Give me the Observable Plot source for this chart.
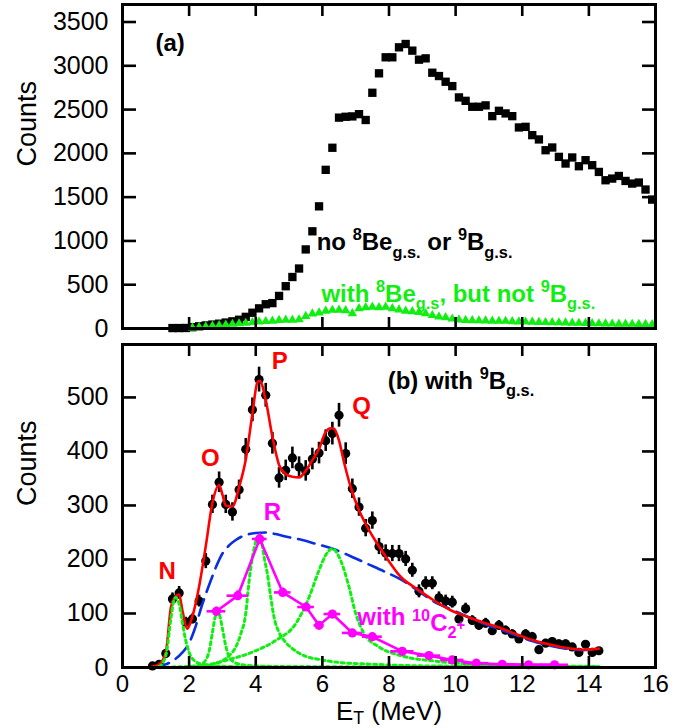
<!DOCTYPE html>
<html><head><meta charset="utf-8">
<script src="https://cdn.jsdelivr.net/npm/d3@7"></script>
<script src="https://cdn.jsdelivr.net/npm/@observablehq/plot@0.6"></script>
<style>
body{margin:0;background:#fff;}
#chart{width:683px;height:728px;overflow:hidden;}
svg{display:block;}
</style></head><body><div id="chart"></div>
<script>
// ---------- tick values ----------
const xTicks = [0, 2, 4, 6, 8, 10, 12, 14, 16];
const aYTicks = [0, 500, 1000, 1500, 2000, 2500, 3000, 3500];
const bYTicks = [0, 100, 200, 300, 400, 500];

// ---------- panel (a): no 8Be g.s. or 9B g.s. (black squares) ----------
const aBlackX = [1.5,1.7,1.9,2.1,2.3,2.5,2.7,2.9,3.1,3.3,3.5,3.7,3.9,4.1,4.3,4.5,4.7,4.9,5.1,5.3,5.5,5.7,5.9,6.1,6.3,6.5,6.7,6.9,7.1,7.3,7.5,7.7,7.9,8.1,8.3,8.5,8.7,8.9,9.1,9.3,9.5,9.7,9.9,10.1,10.3,10.5,10.7,10.9,11.1,11.3,11.5,11.7,11.9,12.1,12.3,12.5,12.7,12.9,13.1,13.3,13.5,13.7,13.9,14.1,14.3,14.5,14.7,14.9,15.1,15.3,15.5,15.7,15.9];
const aBlackY = [5,5,6,15,25,35,45,55,68,82,100,133,180,230,277,290,372,483,588,685,903,1110,1395,1812,2064,2408,2418,2422,2448,2381,2692,2914,3097,3097,3211,3249,3173,3070,3085,2921,2883,2818,2768,2639,2600,2532,2532,2548,2425,2486,2456,2425,2296,2303,2208,2159,2036,2067,1960,1884,1953,1853,1922,1865,1788,1693,1712,1742,1685,1655,1667,1587,1472];

// ---------- panel (a): with 8Be g.s., but not 9B g.s. (green triangles) ----------
const aGreenX = [2.1,2.3,2.5,2.7,2.9,3.1,3.3,3.5,3.7,3.9,4.1,4.3,4.5,4.7,4.9,5.1,5.3,5.5,5.7,5.9,6.1,6.3,6.5,6.7,6.9,7.1,7.3,7.5,7.7,7.9,8.1,8.3,8.5,8.7,8.9,9.1,9.3,9.5,9.7,9.9,10.1,10.3,10.5,10.7,10.9,11.1,11.3,11.5,11.7,11.9,12.1,12.3,12.5,12.7,12.9,13.1,13.3,13.5,13.7,13.9,14.1,14.3,14.5,14.7,14.9,15.1,15.3,15.5,15.7,15.9];
const aGreenY = [8,15,22,30,36,42,50,56,62,70,78,82,85,95,98,98,102,140,168,180,200,210,212,205,172,228,240,245,240,245,228,215,200,195,185,172,150,135,125,110,100,95,92,90,88,86,84,84,80,78,76,74,72,70,69,67,65,63,62,60,58,56,54,53,52,51,50,49,48,47];

// ---------- panel (b): with 9B g.s. (data with errors) ----------
const bX = [0.9,1.1,1.3,1.5,1.7,1.9,2.1,2.3,2.5,2.7,2.9,3.1,3.3,3.5,3.7,3.9,4.1,4.3,4.5,4.7,4.9,5.1,5.3,5.5,5.7,5.9,6.1,6.3,6.5,6.7,6.9,7.1,7.3,7.5,7.7,7.9,8.1,8.3,8.5,8.7,8.9,9.1,9.3,9.5,9.7,9.9,10.1,10.3,10.5,10.7,10.9,11.1,11.3,11.5,11.7,11.9,12.1,12.3,12.5,12.7,12.9,13.1,13.3,13.5,13.7,13.9,14.1,14.3];
const bY = [3,6,26,127,138,84,90,123,197,302,343,302,288,329,404,477,533,504,415,351,365,388,371,364,386,397,420,433,467,396,331,297,258,272,224,212,211,211,201,180,141,156,156,129,123,121,90,109,87,78,82,68,78,69,62,53,62,57,33,45,48,44,44,38,28,43,28,31];
const bErr = [2,2,5,11,12,9,9,11,14,17,19,17,17,18,20,22,23,22,20,19,19,20,19,19,20,20,20,21,22,20,18,17,16,16,15,15,15,15,14,13,12,12,12,11,11,11,9,10,9,9,9,8,9,8,8,7,8,8,6,7,7,7,7,6,5,7,5,6];

// total fit (red)
const fitX = [0.9,1.1,1.3,1.45,1.55,1.7,1.8,1.95,2.1,2.3,2.5,2.7,2.9,3.0,3.1,3.3,3.5,3.7,3.9,4.05,4.12,4.3,4.5,4.7,4.9,5.1,5.3,5.5,5.7,5.9,6.1,6.25,6.35,6.5,6.65,6.85,7.1,7.35,7.65,7.95,8.35,8.85,9.35,9.85,10.35,10.85,11.35,11.85,12.35,12.85,13.35,13.85,14.3];
const fitY = [2,6,28,110,128,135,105,72,95,150,225,305,338,320,300,298,334,385,470,528,531,495,427,375,358,353,352,364,384,405,436,443,442,420,380,334,291,260,229,201,168,145,124,106,94,83,73,61,50,42,36,33,35];

// background (blue dashed)
const bgX = [0.9,1.2,1.5,1.8,2.0,2.15,2.4,2.65,2.8,3.0,3.2,3.4,3.6,3.8,4.0,4.3,4.6,5.0,5.4,5.8,6.35,6.85,7.35,7.85,8.35,8.85,9.35,9.85,10.35,10.85,11.35,11.8,12.3,12.8,13.3,13.8,14.3];
const bgY = [1,4,12,28,45,68,118,161,185,211,226,236,243,247,249,250,247,241,236,229,219,206,192,178,163,143,122,108,94,81,70,60,49,41,35,32,34];

// individual resonances (green dotted)
const pkNX = [0.9,1.1,1.2,1.33,1.45,1.55,1.6,1.65,1.72,1.8,1.9,2.0,2.15,2.4,2.8,3.5,5,8,11,14.3];
const pkNY = [0,2,8,31,90,125,130,126,112,82,50,28,13,6,3,1.5,1,0.5,0.3,0.2];
const pkOX = [0.9,2.0,2.3,2.5,2.6,2.7,2.8,2.85,2.9,3.0,3.1,3.2,3.35,3.6,4.0,5,7,10,14.3];
const pkOY = [0,1,4,14,30,65,98,104,100,72,40,20,10,5,3,1.5,0.8,0.4,0.2];
const pkPX = [0.9,2.0,2.8,3.2,3.4,3.55,3.7,3.8,3.95,4.05,4.1,4.15,4.25,4.35,4.45,4.55,4.7,4.85,5.1,5.45,6.0,6.4,7.5,9,11,14.3];
const pkPY = [0,2,8,22,38,62,100,160,220,242,244,240,205,173,130,93,65,50,35,22,14,10,6,3,2,1];
const pkQX = [2.3,3.1,4.0,4.6,5.2,5.6,5.9,6.1,6.3,6.55,6.8,7.0,7.25,7.7,8.35,9.35,9.85,11,12.5,14.3];
const pkQY = [0,13,31,50,81,130,180,208,220,198,149,100,63,38,22,12,9,5,3,2];

// with 10C 2+ (magenta)
const mX = [2.82,3.46,4.12,4.81,5.51,5.9,6.3,6.9,7.5,8.4,9.2,9.9,10.62,11.4,12.19,12.97];
const mY = [104,133,238,139,112,78,99,64,57,30,22,14,8,6,5,5];
const mXerr = [0.28,0.32,0.22,0.25,0.25,0.15,0.25,0.3,0.3,0.35,0.35,0.35,0.38,0.4,0.4,0.42];
const mYerr = [8,9,10,8,7,6,6,5,5,3,3,2,2,2,2,2];

// ---------- build ----------
const FONT = "'Liberation Sans', Arial, Helvetica, sans-serif";
const GREEN = "#11ee11", RED = "#ff0000", BLUE = "#0a2fe0", MAG = "#ff00ff";
const zip = (xs, ys) => xs.map((x, i) => ({x, y: ys[i]}));
const plain = d3.format("d");

function frameMarks(yTicks, xLabels) {
  const m = [
    Plot.frame({stroke: "black", strokeWidth: 3}),
    Plot.axisY({ticks: yTicks, anchor: "left", tickSize: 0, tickPadding: 14, tickFormat: plain, label: null, fontSize: 25}),
    Plot.axisY({ticks: yTicks, anchor: "left", tickSize: -14, tickFormat: () => "", label: null, strokeWidth: 2.6}),
    Plot.axisY({ticks: yTicks, anchor: "right", tickSize: -14, tickFormat: () => "", label: null, strokeWidth: 2.6}),
    Plot.axisX({ticks: xTicks, anchor: "top", tickSize: -11, tickFormat: () => "", label: null, strokeWidth: 2.6}),
    Plot.axisX({ticks: xTicks, anchor: "bottom", tickSize: -11, tickFormat: () => "", label: null, strokeWidth: 2.6}),
    Plot.text(["Counts"], {frameAnchor: "left", rotate: -90, dx: -95, fontSize: 27, fill: "black"})
  ];
  if (xLabels) m.push(Plot.axisX({ticks: xTicks, anchor: "bottom", tickSize: 0, tickPadding: 7, tickFormat: plain, label: null, fontSize: 24}));
  return m;
}

const plotA = Plot.plot({
  width: 683, height: 336,
  marginLeft: 122, marginRight: 28, marginTop: 4, marginBottom: 8,
  style: {fontFamily: FONT, background: "white", overflow: "visible"},
  x: {domain: [0, 16]},
  y: {domain: [0, 3700]},
  marks: [
    Plot.dot(zip(aBlackX, aBlackY), {x: "x", y: "y", symbol: "square", r: 4.7, fill: "black", stroke: "none"}),
    Plot.dot(zip(aGreenX, aGreenY), {x: "x", y: "y", symbol: "triangle", r: 3.5, fill: GREEN, stroke: "none"}),
    Plot.text(["(a)"], {x: 0.99, y: 3260, textAnchor: "start", fontWeight: "bold", fontSize: 24}),
    Plot.text(["no ^{8}Be_{g.s.} or ^{9}B_{g.s.}"], {x: 5.83, y: 980, textAnchor: "start", fontWeight: "bold", fontSize: 24, fill: "black"}),
    Plot.text(["with ^{8}Be_{g.s}, but not ^{9}B_{g.s.}"], {x: 5.97, y: 390, textAnchor: "start", fontWeight: "bold", fontSize: 24, fill: GREEN}),
    ...frameMarks(aYTicks, false)
  ]
});

const bData = bX.map((x, i) => ({x, y: bY[i], lo: bY[i] - bErr[i], hi: bY[i] + bErr[i]}));
const mData = mX.map((x, i) => ({x, y: mY[i], x1: x - mXerr[i], x2: x + mXerr[i], lo: mY[i] - mYerr[i], hi: mY[i] + mYerr[i]}));
const dotted = {x: "x", y: "y", stroke: GREEN, strokeWidth: 3, strokeDasharray: "3,3.5", curve: "monotone-x"};

const plotB = Plot.plot({
  width: 683, height: 392,
  marginLeft: 122, marginRight: 28, marginTop: 8, marginBottom: 61,
  style: {fontFamily: FONT, background: "white", overflow: "visible"},
  x: {domain: [0, 16]},
  y: {domain: [0, 598]},
  marks: [
    Plot.ruleX(bData, {x: "x", y1: "lo", y2: "hi", stroke: "black", strokeWidth: 2.6}),
    Plot.dot(bData, {x: "x", y: "y", r: 4.6, fill: "black", stroke: "none"}),
    Plot.line(zip(bgX, bgY), {x: "x", y: "y", stroke: BLUE, strokeWidth: 2.6, strokeDasharray: "17,8", curve: "monotone-x"}),
    Plot.line(zip(fitX, fitY), {x: "x", y: "y", stroke: RED, strokeWidth: 2.6, curve: "monotone-x"}),
    Plot.line(zip(pkNX, pkNY), dotted),
    Plot.line(zip(pkOX, pkOY), dotted),
    Plot.line(zip(pkPX, pkPY), dotted),
    Plot.line(zip(pkQX, pkQY), dotted),
    Plot.line(mData, {x: "x", y: "y", stroke: MAG, strokeWidth: 2.6}),
    Plot.ruleY(mData, {y: "y", x1: "x1", x2: "x2", stroke: MAG, strokeWidth: 2.6}),
    Plot.ruleX(mData, {x: "x", y1: "lo", y2: "hi", stroke: MAG, strokeWidth: 2.6}),
    Plot.dot(mData, {x: "x", y: "y", r: 4.6, fill: MAG, stroke: "none"}),
    Plot.text(["N"], {x: 1.34, y: 178, fontWeight: "bold", fontSize: 24, fill: RED}),
    Plot.text(["O"], {x: 2.64, y: 388, fontWeight: "bold", fontSize: 24, fill: RED}),
    Plot.text(["P"], {x: 4.72, y: 566, fontWeight: "bold", fontSize: 24, fill: RED}),
    Plot.text(["Q"], {x: 7.18, y: 484, fontWeight: "bold", fontSize: 24, fill: RED}),
    Plot.text(["R"], {x: 4.5, y: 287, fontWeight: "bold", fontSize: 24, fill: MAG}),
    Plot.text(["(b) with ^{9}B_{g.s.}"], {x: 7.96, y: 530, textAnchor: "start", fontWeight: "bold", fontSize: 24, fill: "black"}),
    Plot.text(["with !{10}~{C}={2}%{+}"], {x: 7.05, y: 93, textAnchor: "start", fontWeight: "bold", fontSize: 24, fill: MAG}),
    Plot.text(["E$T (MeV)"], {frameAnchor: "bottom", lineAnchor: "middle", dy: 44.5, fontSize: 26, fill: "black"}),
    ...frameMarks(bYTicks, true)
  ]
});

const chart = document.getElementById("chart");
chart.appendChild(plotA);
chart.appendChild(plotB);

// rich text tokens: X{..} where X sets size (em) and baseline shift (em, + is down);
// "$T" is a shallow subscript used for the axis title
const RICH = {
  "^": [0.68, -0.42],  // superscript
  "_": [0.68, 0.3],    // subscript
  "~": [1.0, 0.25],    // slightly lowered base text
  "!": [0.68, -0.17],  // superscript of lowered text
  "=": [0.68, 0.55],   // subscript of lowered text
  "%": [0.62, 0.22]    // superscript on that subscript
};
function richify(svg) {
  const re = /([\^_~!=%]\{[^}]*\}|\$\w)/;
  d3.select(svg).selectAll("text").each(function() {
    const s = this.textContent;
    if (!re.test(s)) return;
    const F = parseFloat(getComputedStyle(this).fontSize) || 24;
    const parts = s.split(re).filter(p => p !== "");
    while (this.firstChild) this.removeChild(this.firstChild);
    let cur = 0;
    for (const p of parts) {
      let txt = p, size = 1, shift = 0;
      if (p[0] === "$" && p.length === 2) { txt = p[1]; size = 0.68; shift = 0.15; }
      else if (RICH[p[0]] && p[1] === "{" && p.endsWith("}")) {
        txt = p.slice(2, -1);
        [size, shift] = RICH[p[0]];
      }
      const ts = d3.select(this).append("tspan").text(txt).attr("font-size", (size * F).toFixed(2));
      const dy = (shift - cur) * F;
      if (Math.abs(dy) > 0.01) ts.attr("dy", dy.toFixed(2));
      cur = shift;
    }
  });
}
richify(plotA);
richify(plotB);
</script></body></html>
